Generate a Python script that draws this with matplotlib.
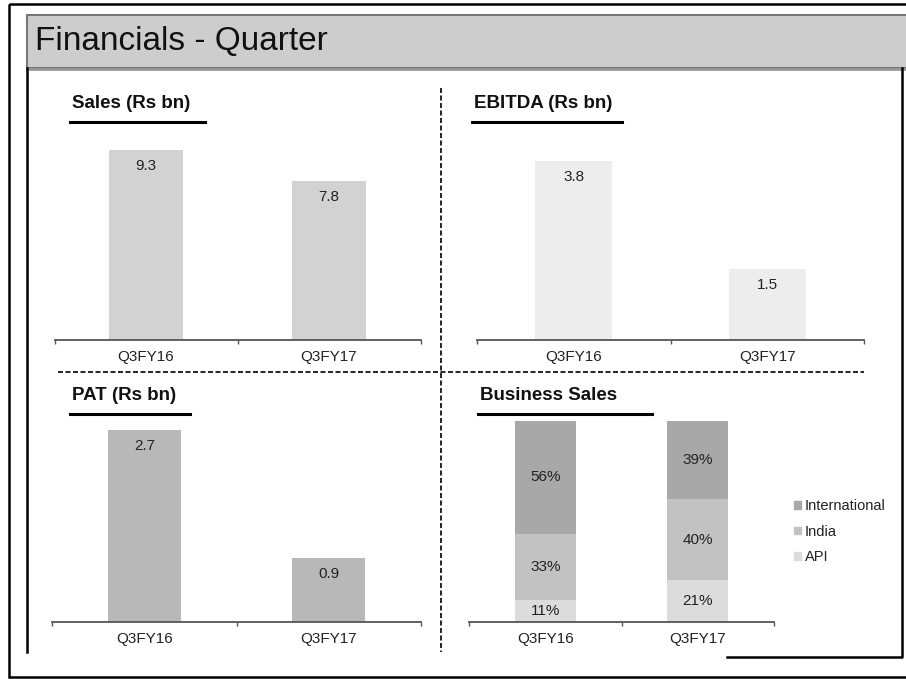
import matplotlib.pyplot as plt
from matplotlib.patches import Rectangle, Patch

plt.rcParams['font.family'] = ['Liberation Sans', 'DejaVu Sans']

W, H = 906, 679

quarters = ["Q3FY16", "Q3FY17"]
sales = [9.3, 7.8]
ebitda = [3.8, 1.5]
pat = [2.7, 0.9]
segments = ["API", "India", "International"]
api_share = [11, 21]
india_share = [33, 40]
intl_share = [56, 39]

seg_colors = {"API": "#dcdcdc", "India": "#c2c2c2", "International": "#a8a8a8"}


def px_rect(x0, y0, x1, y1):
    # pixel box (top-left origin) -> figure fraction rect
    return [x0 / W, 1 - y1 / H, (x1 - x0) / W, (y1 - y0) / H]


def style_axis(ax):
    for side in ["top", "left", "right"]:
        ax.spines[side].set_visible(False)
    ax.spines["bottom"].set_color("#555555")
    ax.spines["bottom"].set_linewidth(1.3)
    ax.set_yticks([])
    ax.set_xlim(-0.5, 1.5)
    ax.set_xticks([0, 1])
    ax.set_xticklabels(quarters, fontsize=11, color="#222222")
    ax.tick_params(axis="x", which="major", length=0, pad=7)
    ax.set_xticks([-0.5, 0.5, 1.5], minor=True)
    ax.tick_params(axis="x", which="minor", length=3, width=1, color="#555555")
    ax.patch.set_alpha(0)


def simple_bars(ax, values, color):
    bars = ax.bar(range(len(values)), values, width=0.4, color=color)
    for b, v in zip(bars, values):
        ax.annotate(f"{v:.1f}", (b.get_x() + b.get_width() / 2, v),
                    xytext=(0, -16), textcoords="offset pixels",
                    ha="center", va="center", fontsize=11, color="#222222")


fig = plt.figure(figsize=(W / 100, H / 100), dpi=100)

# frame / slide decoration in pixel space
bg = fig.add_axes([0, 0, 1, 1])
bg.set_xlim(0, W)
bg.set_ylim(H, 0)
bg.axis("off")
bg.add_patch(Rectangle((9, 4), W, 673, fill=False, ec="black", lw=1.8))
bg.add_patch(Rectangle((27, 15), W, 53, fc="#cdcdcd", ec="#777777", lw=1.5))
bg.plot([27, W], [69, 69], color="#999999", lw=2)
bg.plot([27, 27], [68, 652], color="black", lw=1.8)
bg.plot([727, 902, 902], [657, 657, 68], color="black", lw=1.8)
bg.text(35, 41, "Financials - Quarter", fontsize=24, va="center", ha="left",
        color="#111111")

# dashed separators
bg.plot([441, 441], [88, 652], color="black", lw=1.2, ls=(0, (3, 1.5)))
bg.plot([58, 864], [372, 372], color="black", lw=1.2, ls=(0, (3, 1.5)))

# panel titles with underline
for x, y, x1, txt in [(72, 104, 205, "Sales (Rs bn)"),
                      (474, 104, 622, "EBITDA (Rs bn)"),
                      (72, 396, 190, "PAT (Rs bn)"),
                      (480, 396, 652, "Business Sales")]:
    bg.text(x, y, txt, fontsize=13.5, fontweight="bold", va="center",
            ha="left", color="#111111")
    bg.plot([x - 2, x1], [y + 18, y + 18], color="black", lw=2.2)

# Sales
ax1 = fig.add_axes(px_rect(54.5, 135.7, 420.5, 340))
simple_bars(ax1, sales, "#d2d2d2")
ax1.set_ylim(0, 10)
style_axis(ax1)

# EBITDA
ax2 = fig.add_axes(px_rect(477, 151.6, 864, 340))
simple_bars(ax2, ebitda, "#ededed")
ax2.set_ylim(0, 4)
style_axis(ax2)

# PAT
ax3 = fig.add_axes(px_rect(52.5, 409, 420.5, 622))
simple_bars(ax3, pat, "#b8b8b8")
ax3.set_ylim(0, 3)
style_axis(ax3)

# Business Sales (stacked)
ax4 = fig.add_axes(px_rect(469, 421, 774, 622))
x = range(len(quarters))
bottom = [0, 0]
for name, vals in [("API", api_share), ("India", india_share),
                   ("International", intl_share)]:
    bars = ax4.bar(x, vals, width=0.4, bottom=bottom, color=seg_colors[name])
    ax4.bar_label(bars, labels=[f"{v}%" for v in vals], label_type="center",
                  fontsize=11, color="#222222")
    bottom = [b + v for b, v in zip(bottom, vals)]
ax4.set_ylim(0, 100)
style_axis(ax4)

handles = [Patch(color=seg_colors[s], label=s) for s in reversed(segments)]
leg = fig.legend(handles=handles, loc="upper left",
                 bbox_to_anchor=(794 / W, 1 - 499 / H), frameon=False,
                 fontsize=10.5, handlelength=0.45, handleheight=0.45,
                 handletextpad=0.3, labelspacing=0.8, borderpad=0,
                 borderaxespad=0)
for t in leg.get_texts():
    t.set_color("#222222")

fig.savefig("out.png", dpi=100)
